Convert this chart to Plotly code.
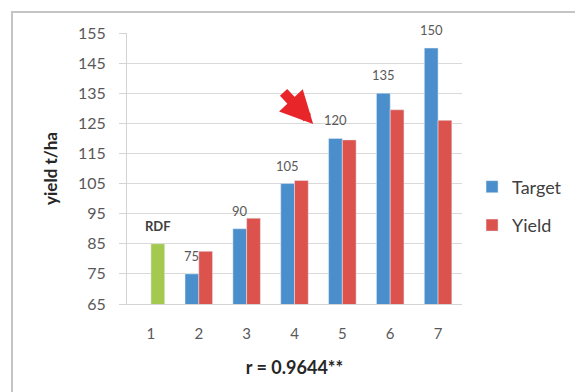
import plotly.graph_objects as go

# Treatment numbers on the x axis
categories = [1, 2, 3, 4, 5, 6, 7]
# Targeted yield (t/ha); treatment 1 (RDF) has no target
target = [None, 75, 90, 105, 120, 135, 150]
# Achieved yield (t/ha) for the targeted treatments
yield_vals = [None, 82.5, 93.5, 106, 119.5, 129.5, 126]
# Recommended dose of fertiliser check
rdf_value = [85, None, None, None, None, None, None]
rdf_label = "RDF"

y_ticks = [65, 75, 85, 95, 105, 115, 125, 135, 145, 155]
x_title = "r = 0.9644**"
y_title = "yield t/ha"

BLUE = "#4a8fcb"
RED = "#dc524d"
GREEN = "#a4c94f"
FONT = "Lato, 'Open Sans', sans-serif"
BARGAP = 0.425

W, H = 575, 392
L, R, T, B = 127, 113, 33, 88
pw, ph = W - L - R, H - T - B


def px_x(p):
    """pixel column -> paper x"""
    return (p - L) / pw


def px_y(p):
    """pixel row -> paper y"""
    return (T + ph - p) / ph


fig = go.Figure()
fig.add_trace(go.Bar(x=categories, y=target, name="Target", marker_color=BLUE,
                     offsetgroup="t", legendgroup="t"))
fig.add_trace(go.Bar(x=categories, y=yield_vals, name="Yield", marker_color=RED,
                     offsetgroup="y", legendgroup="y"))
fig.add_trace(go.Bar(x=categories, y=rdf_value, name=rdf_label, marker_color=GREEN,
                     offsetgroup="y", showlegend=False))

# value labels above the target bars
half = (1 - BARGAP) / 4
annotations = []
for c, v in zip(categories, target):
    if v is None:
        continue
    annotations.append(dict(x=c - half, y=v, text=str(v), showarrow=False,
                            yanchor="bottom", yshift=8,
                            font=dict(family=FONT, size=13, color="#595959")))
for c, v in zip(categories, rdf_value):
    if v is None:
        continue
    annotations.append(dict(x=c + half, y=v, text="<b>" + rdf_label + "</b>",
                            showarrow=False, yanchor="bottom", yshift=8,
                            font=dict(family=FONT, size=13, color="#404040")))

# red pointer towards the 120 t/ha target
annotations.append(dict(x=4.39, y=124.8, ax=-31, ay=-33, text="", showarrow=True,
                        arrowhead=2, arrowsize=0.65, arrowwidth=10,
                        arrowcolor="#e8262a", standoff=0))

# outer chart frame
shapes = [dict(type="rect", xref="paper", yref="paper",
               x0=px_x(12), x1=px_x(W + 20), y0=px_y(H + 20), y1=px_y(12),
               line=dict(color="#c4c4c4", width=2), fillcolor="rgba(0,0,0,0)",
               layer="below")]

fig.update_layout(
    width=W, height=H,
    margin=dict(l=L, r=R, t=T, b=B, autoexpand=False),
    paper_bgcolor="white", plot_bgcolor="white",
    barmode="group", bargap=BARGAP, bargroupgap=0,
    font=dict(family=FONT, color="#595959"),
    annotations=annotations, shapes=shapes,
    legend=dict(x=1.03, xanchor="left", y=0.5, yanchor="top",
                tracegroupgap=12, bgcolor="rgba(0,0,0,0)",
                font=dict(family=FONT, size=18, color="#404040")),
    xaxis=dict(range=[0.5, 7.5], tickvals=categories, ticks="",
               showgrid=False, showline=True, linecolor="#d4d4d4", linewidth=1,
               zeroline=False, ticklabelstandoff=16,
               tickfont=dict(family=FONT, size=15, color="#595959"),
               title=dict(text="<b>" + x_title + "</b>", standoff=20,
                          font=dict(family=FONT, size=18, color="#262626"))),
    yaxis=dict(range=[65, 155], tickvals=y_ticks, ticks="outside", ticklen=7,
               tickcolor="#d4d4d4", showgrid=True, gridcolor="#d9d9d9",
               gridwidth=1, showline=True, linecolor="#d4d4d4", zeroline=False,
               ticklabelstandoff=10,
               tickfont=dict(family=FONT, size=16, color="#595959"),
               title=dict(text="<b>" + y_title + "</b>", standoff=16,
                          font=dict(family=FONT, size=17, color="#262626"))),
)

fig.write_html("out.html")
